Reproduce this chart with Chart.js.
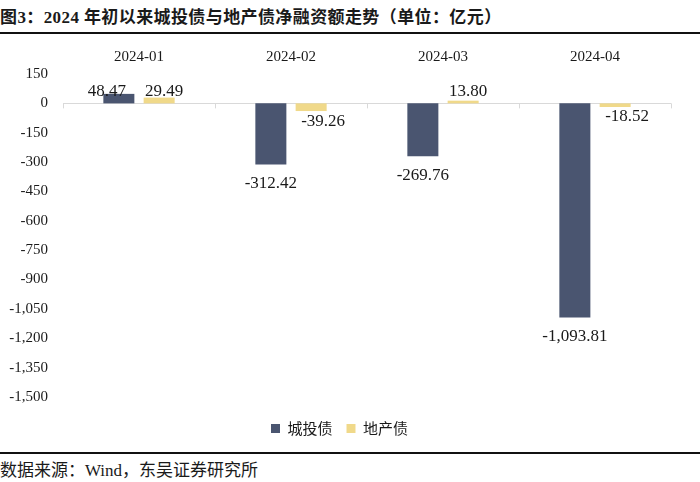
<!DOCTYPE html>
<html>
<head>
<meta charset="utf-8">
<script src="https://cdn.jsdelivr.net/npm/chart.js@4/dist/chart.umd.min.js"></script>
<style>
  html, body { margin: 0; padding: 0; background: #fff; }
  body { width: 700px; height: 482px; position: relative; overflow: hidden; }
  #title { position: absolute; left: 0; top: 3px; font: bold 17px "Liberation Serif", Tinos, "Times New Roman", "DejaVu Serif", "Noto Sans CJK SC", serif; letter-spacing: 0.4px; color: #1a1a1a; white-space: nowrap; }
  #topline { position: absolute; left: 0; top: 32px; width: 700px; height: 2px; background: #111; }
  #botline { position: absolute; left: 0; top: 452px; width: 700px; height: 2px; background: #111; }
  #source { position: absolute; left: 0; top: 456px; font: 17px "Liberation Serif", Tinos, "Times New Roman", "DejaVu Serif", "Noto Sans CJK SC", serif; color: #1a1a1a; white-space: nowrap; }
  #wrap { position: absolute; left: 0; top: 36px; width: 700px; height: 414px; }
</style>
</head>
<body>
<div id="title">图3：2024 年初以来城投债与地产债净融资额走势（单位：亿元）</div>
<div id="topline"></div>
<div id="wrap"><canvas id="c"></canvas></div>
<div id="botline"></div>
<div id="source">数据来源：Wind，东吴证券研究所</div>
<script>
const categories = ['2024-01', '2024-02', '2024-03', '2024-04'];
const seriesNames = ['城投债', '地产债'];
const chengtouValues = [48.47, -312.42, -269.76, -1093.81];
const dichanValues = [29.49, -39.26, 13.80, -18.52];
const yTickMin = -1500;
const yTickMax = 150;
const yTickStep = 150;

const serif = '"Liberation Serif", Tinos, "Times New Roman", "DejaVu Serif", serif';

const fmt = (v, d) => Number(v).toLocaleString('en-US', { minimumFractionDigits: d, maximumFractionDigits: d });

const valueLabels = {
  id: 'valueLabels',
  afterDatasetsDraw(chart) {
    const ctx = chart.ctx;
    const y0 = chart.scales.y.getPixelForValue(0);
    ctx.save();
    ctx.font = '17px ' + serif;
    ctx.fillStyle = '#1a1a1a';
    ctx.textAlign = 'center';
    ctx.textBaseline = 'middle';
    chart.data.datasets.forEach((ds, di) => {
      const meta = chart.getDatasetMeta(di);
      meta.data.forEach((bar, i) => {
        const v = ds.data[i];
        const dx = v >= 0 ? (ds.labelShiftPos || 0) : (ds.labelShiftNeg || 0);
        let y;
        if (v >= 0) y = y0 - 12;
        else y = bar.y + (bar.y - y0 > 30 ? 19 : 10);
        ctx.fillText(fmt(v, 2), bar.x + dx, y);
      });
    });
    ctx.restore();
  }
};

const zeroTicks = {
  id: 'zeroTicks',
  beforeDatasetsDraw(chart) {
    const x = chart.scales.x, y = chart.scales.y;
    const ctx = chart.ctx;
    const y0 = y.getPixelForValue(0);
    const w = x.getPixelForValue(1) - x.getPixelForValue(0);
    ctx.save();
    ctx.strokeStyle = '#d9d9d9';
    ctx.lineWidth = 1;
    ctx.beginPath();
    ctx.moveTo(chart.chartArea.left, Math.round(y0) + 0.5);
    ctx.lineTo(chart.chartArea.right, Math.round(y0) + 0.5);
    for (let i = 0; i <= categories.length; i++) {
      const px = Math.round(x.getPixelForValue(0) - w / 2 + i * w) + 0.5;
      ctx.moveTo(px, y0);
      ctx.lineTo(px, y0 + 5);
    }
    ctx.stroke();
    ctx.restore();
  }
};

function build() {
  new Chart(document.getElementById('c'), {
    type: 'bar',
    data: {
      labels: categories,
      datasets: [
        { label: seriesNames[0], data: chengtouValues, backgroundColor: '#4a5570', categoryPercentage: 0.53, barPercentage: 0.77, labelShiftPos: -12, labelShiftNeg: 0 },
        { label: seriesNames[1], data: dichanValues, backgroundColor: '#f0d98a', categoryPercentage: 0.53, barPercentage: 0.77, labelShiftPos: 5, labelShiftNeg: 12 }
      ]
    },
    options: {
      responsive: true,
      maintainAspectRatio: false,
      animation: false,
      layout: { padding: { left: 8, right: 29, top: 4, bottom: 4 } },
      plugins: {
        legend: {
          position: 'bottom',
          labels: {
            boxWidth: 9, boxHeight: 9, padding: 14,
            color: '#1a1a1a',
            font: { family: '"Noto Sans CJK SC", sans-serif', size: 15 }
          }
        },
        tooltip: { enabled: false }
      },
      scales: {
        x: {
          position: 'top',
          grid: { display: false, drawTicks: false, tickLength: 0 },
          border: { display: false },
          ticks: { color: '#1a1a1a', font: { family: serif, size: 15 }, padding: 8 }
        },
        xb: {
          type: 'category',
          position: 'bottom',
          grid: { display: false, drawTicks: false },
          border: { display: false },
          ticks: { display: false },
          afterFit: (s) => { s.height = 10; }
        },
        y: {
          min: yTickMin, max: yTickMax,
          grid: { display: false, drawTicks: false, tickLength: 0 },
          border: { display: false },
          afterFit: (s) => { s.width = 55; },
          ticks: {
            stepSize: yTickStep,
            color: '#1a1a1a',
            padding: 15,
            font: { family: serif, size: 15 },
            callback: (v) => fmt(v, 0)
          }
        }
      }
    },
    plugins: [zeroTicks, valueLabels]
  });
}

const fontsReady = document.fonts ? Promise.all([
  document.fonts.load('15px "Liberation Serif"'),
  document.fonts.load('17px "Liberation Serif"'),
  document.fonts.load('15px "Noto Sans CJK SC"')
]).catch(() => {}) : Promise.resolve();
let built = false;
fontsReady.then(() => { if (!built) { built = true; build(); } });
setTimeout(() => { if (!built) { built = true; build(); } }, 300);
</script>
</body>
</html>
